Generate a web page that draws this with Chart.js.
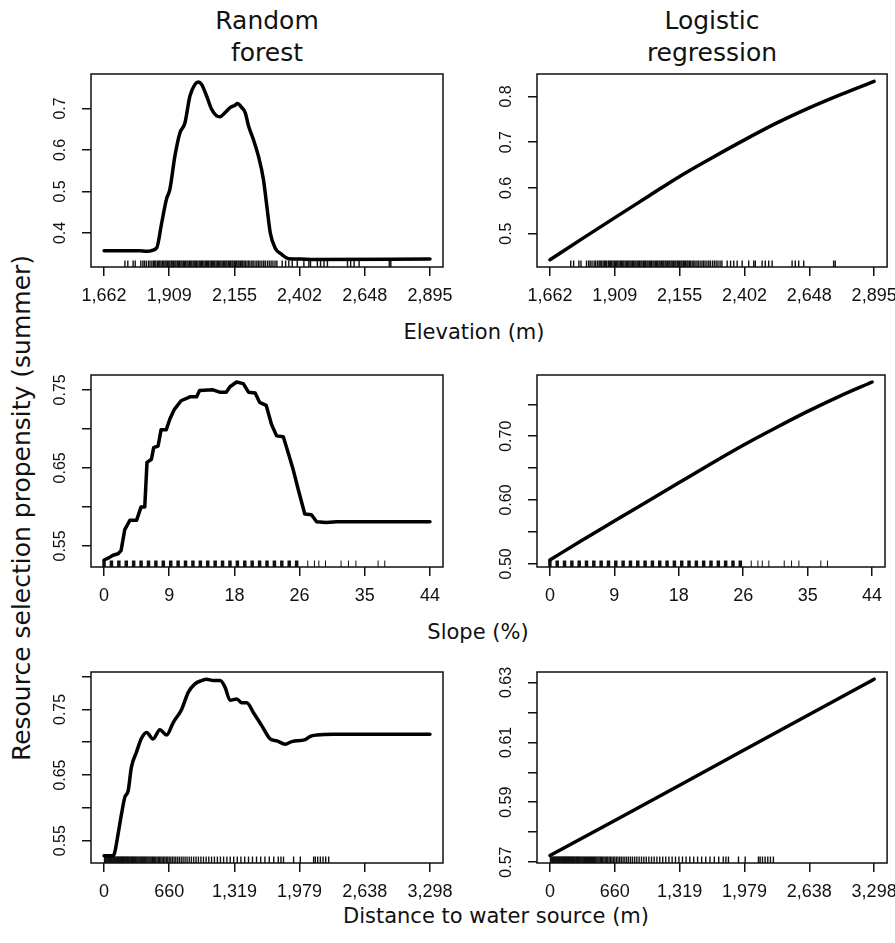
<!DOCTYPE html>
<html>
<head>
<meta charset="utf-8">
<script src="https://cdn.jsdelivr.net/npm/chart.js@4.4.1/dist/chart.umd.min.js"></script>
<style>
  body { margin: 0; background: #fff; }
  #page { position: relative; width: 895px; height: 943px; overflow: hidden; font-family: "DejaVu Sans", Verdana, sans-serif; color: #111; }
  .panel { position: absolute; }
  .label { position: absolute; font-size: 21px; white-space: nowrap; transform: translate(-50%, -50%); }
  .col-title { position: absolute; width: 260px; text-align: center; font-size: 25px; line-height: 32px; }
</style>
</head>
<body>
<div id="page">
  <div class="col-title" style="left:137px; top:5px;">Random<br>forest</div>
  <div class="col-title" style="left:582px; top:5px;">Logistic<br>regression</div>
  <div class="label" style="left:21px; top:508px; font-size:25px; transform: translate(-50%, -50%) rotate(-90deg);">Resource selection propensity (summer)</div>
  <div class="label" style="left:474px; top:332px;">Elevation (m)</div>
  <div class="label" style="left:478px; top:632px;">Slope (%)</div>
  <div class="label" style="left:496px; top:916px;">Distance to water source (m)</div>
</div>
<script>
// x axes
const elevTicks = [1662, 1908.6, 2155.2, 2401.8, 2648.4, 2895];
const elevLabels = ['1,662', '1,909', '2,155', '2,402', '2,648', '2,895'];
const slopeTicks = [0, 8.8, 17.6, 26.4, 35.2, 44];
const slopeLabels = ['0', '9', '18', '26', '35', '44'];
const distTicks = [0, 659.6, 1319.2, 1978.8, 2638.4, 3298];
const distLabels = ['0', '660', '1,319', '1,979', '2,638', '3,298'];

// random forest, elevation
const rfElevX = [1662, 1797, 1823, 1861, 1880, 1898, 1911, 1930, 1949, 1968, 1987, 2006, 2019, 2031, 2050, 2069, 2088, 2101, 2120, 2139, 2158, 2167, 2183, 2196, 2209, 2227, 2246, 2265, 2278, 2291, 2309, 2335, 2360, 2404, 2455, 2895];
const rfElevY = [0.357, 0.357, 0.356, 0.364, 0.424, 0.481, 0.505, 0.585, 0.641, 0.665, 0.73, 0.758, 0.764, 0.758, 0.73, 0.698, 0.682, 0.68, 0.69, 0.702, 0.708, 0.712, 0.702, 0.69, 0.657, 0.625, 0.585, 0.529, 0.464, 0.4, 0.364, 0.348, 0.338, 0.337, 0.336, 0.337];
// logistic regression, elevation
const lrElevX = [1662, 1785, 1909, 2032, 2155, 2279, 2402, 2525, 2648, 2772, 2895];
const lrElevY = [0.443, 0.489, 0.535, 0.580, 0.625, 0.666, 0.705, 0.742, 0.775, 0.805, 0.833];

// random forest, slope
const rfSlopeX = [0, 0.7, 1.2, 1.9, 2.3, 2.8, 3.5, 4.4, 5.0, 5.5, 5.8, 6.4, 6.7, 7.3, 7.7, 8.4, 8.9, 9.5, 10.4, 11.6, 12.5, 12.9, 14.7, 15.6, 16.5, 17.0, 17.9, 18.8, 19.5, 20.4, 21.0, 21.9, 22.6, 23.3, 24.2, 24.9, 25.5, 26.2, 27.1, 28.0, 28.7, 30.0, 31.4, 44];
const rfSlopeY = [0.532, 0.535, 0.538, 0.540, 0.544, 0.571, 0.583, 0.583, 0.600, 0.600, 0.657, 0.661, 0.676, 0.678, 0.699, 0.699, 0.713, 0.725, 0.736, 0.741, 0.741, 0.749, 0.750, 0.747, 0.747, 0.754, 0.760, 0.758, 0.747, 0.746, 0.734, 0.730, 0.706, 0.691, 0.690, 0.668, 0.649, 0.623, 0.591, 0.590, 0.581, 0.580, 0.581, 0.581];
// logistic regression, slope
const lrSlopeX = [0, 4.4, 8.8, 13.2, 17.6, 22, 26.4, 30.8, 35.2, 39.6, 44];
const lrSlopeY = [0.506, 0.537, 0.567, 0.597, 0.627, 0.657, 0.686, 0.713, 0.739, 0.763, 0.785];

// random forest, distance to water
const rfDistX = [0, 91, 108, 142, 176, 210, 244, 277, 328, 379, 430, 497, 565, 633, 700, 785, 852, 920, 988, 1038, 1106, 1174, 1224, 1275, 1343, 1394, 1444, 1512, 1597, 1681, 1749, 1833, 1901, 2036, 2087, 2155, 2324, 3298];
const rfDistY = [0.527, 0.527, 0.532, 0.560, 0.590, 0.616, 0.626, 0.662, 0.685, 0.706, 0.715, 0.705, 0.719, 0.711, 0.730, 0.750, 0.776, 0.789, 0.794, 0.796, 0.794, 0.794, 0.784, 0.764, 0.766, 0.760, 0.760, 0.745, 0.725, 0.705, 0.702, 0.697, 0.701, 0.704, 0.709, 0.711, 0.712, 0.712];
// logistic regression, distance to water
const lrDistX = [0, 660, 1319, 1979, 2638, 3298];
const lrDistY = [0.5722, 0.5839, 0.5957, 0.6075, 0.6193, 0.6311];

// rug (observed locations)
const elevRug = [1741, 1752, 1772, 1780, 1801, 1809, 1815, 1822, 1830, 1836, 1843, 1849, 1853, 1858, 1864, 1869, 1873, 1878, 1884, 1888, 1893, 1897, 1902, 1907, 1911, 1916, 1920, 1925, 1930, 1934, 1939, 1943, 1948, 1953, 1957, 1962, 1966, 1971, 1976, 1980, 1985, 1989, 1994, 1999, 2003, 2008, 2012, 2017, 2022, 2026, 2031, 2035, 2040, 2045, 2049, 2054, 2058, 2063, 2068, 2072, 2077, 2081, 2086, 2091, 2095, 2100, 2104, 2109, 2114, 2118, 2123, 2127, 2132, 2137, 2141, 2146, 2150, 2155, 2160, 2164, 2169, 2173, 2178, 2183, 2187, 2192, 2197, 2203, 2209, 2214, 2221, 2226, 2233, 2240, 2246, 2252, 2259, 2266, 2272, 2280, 2287, 2294, 2301, 2309, 2316, 2336, 2349, 2361, 2374, 2393, 2418, 2437, 2443, 2469, 2481, 2494, 2507, 2583, 2595, 2608, 2627, 2741, 2747];
const slopeRugDense = [0, 1, 2, 3, 4, 5, 6, 7, 8, 9, 10, 11, 12, 13, 14, 15, 16, 17, 18, 19, 20, 21, 22, 23, 24, 25, 26];
const slopeRugSparse = [27.5, 28.4, 29.0, 29.9, 32.0, 33.0, 34.0, 37.0, 37.9];
const distRug = [5, 12, 20, 28, 35, 43, 50, 58, 66, 73, 81, 89, 96, 104, 112, 120, 127, 135, 143, 150, 158, 166, 174, 181, 189, 197, 205, 213, 221, 229, 237, 246, 254, 263, 272, 280, 289, 298, 307, 316, 325, 334, 344, 353, 363, 372, 382, 392, 402, 412, 423, 433, 444, 455, 466, 477, 489, 500, 512, 524, 536, 549, 562, 575, 588, 602, 616, 630, 645, 660, 676, 692, 709, 726, 744, 762, 781, 800, 820, 840, 862, 884, 907, 931, 955, 980, 1006, 1033, 1060, 1088, 1117, 1147, 1178, 1210, 1243, 1277, 1312, 1348, 1385, 1423, 1462, 1502, 1543, 1585, 1628, 1672, 1717, 1763, 1790, 1816, 1918, 1986, 2121, 2138, 2162, 2189, 2216, 2243, 2273];

// y axes
const rfElevYTicks = [0.4, 0.5, 0.6, 0.7];
const rfElevYLabels = ['0.4', '0.5', '0.6', '0.7'];
const lrElevYTicks = [0.5, 0.6, 0.7, 0.8];
const lrElevYLabels = ['0.5', '0.6', '0.7', '0.8'];
const rfSlopeYTicks = [0.55, 0.60, 0.65, 0.70, 0.75];
const rfSlopeYLabels = ['0.55', '', '0.65', '', '0.75'];
const lrSlopeYTicks = [0.50, 0.55, 0.60, 0.65, 0.70, 0.75];
const lrSlopeYLabels = ['0.50', '', '0.60', '', '0.70', ''];
const rfDistYTicks = [0.55, 0.60, 0.65, 0.70, 0.75, 0.80];
const rfDistYLabels = ['0.55', '', '0.65', '', '0.75', ''];
const lrDistYTicks = [0.57, 0.58, 0.59, 0.60, 0.61, 0.62, 0.63];
const lrDistYLabels = ['0.57', '', '0.59', '', '0.61', '', '0.63'];

const INK = '#111';
const TICK_FONT = '"Liberation Sans", Arial, sans-serif';
const X_FONT_SIZE = 18;
const Y_FONT_SIZE = 16;
const TICK_LEN = 9;
const TOP_PAD = 12;
const X_AXIS_H = 45;
const Y_LABEL_GAP = 30.5;

const COLS = [
    { canvasLeft: 20, left: 91, right: 443, canvasRight: 465 },
    { canvasLeft: 470, left: 537, right: 888, canvasRight: 895 }
];
const ROWS = [
    { top: 74, bottom: 267 },
    { top: 375, bottom: 567 },
    { top: 672, bottom: 863 }
];

const page = document.getElementById('page');
const measure = document.createElement('canvas').getContext('2d');
measure.font = `${Y_FONT_SIZE}px ${TICK_FONT}`;

const boxPlugin = {
    id: 'box',
    afterDraw(chart) {
        const { ctx, chartArea: a } = chart;
        ctx.save();
        ctx.strokeStyle = INK;
        ctx.lineWidth = 1.5;
        ctx.strokeRect(a.left, a.top, a.width, a.height);
        ctx.restore();
    }
};

const toPoints = (xs, ys) => xs.map((x, i) => ({ x, y: ys[i] }));

function rugSet(values, yMin, width) {
    return {
        data: values.map(v => ({ x: v, y: yMin })),
        showLine: false,
        pointStyle: 'line',
        pointRotation: 90,
        pointRadius: 6.5,
        pointBorderWidth: width,
        pointBorderColor: INK,
        clip: 0
    };
}

function makePanel(col, row, p) {
    const canvas = document.createElement('canvas');
    canvas.className = 'panel';
    canvas.width = col.canvasRight - col.canvasLeft;
    canvas.height = row.bottom - row.top + TOP_PAD + X_AXIS_H;
    canvas.style.left = col.canvasLeft + 'px';
    canvas.style.top = (row.top - TOP_PAD) + 'px';
    page.appendChild(canvas);

    const widest = Math.max(...p.yLabels.map(l => measure.measureText(l).width));
    const grid = { drawOnChartArea: false, drawTicks: true, tickLength: TICK_LEN, color: INK, lineWidth: 1.5 };

    const datasets = [{
        data: toPoints(p.x, p.y),
        showLine: true,
        borderColor: '#000',
        borderWidth: 3.5,
        borderJoinStyle: 'round',
        borderCapStyle: 'round',
        pointRadius: 0,
        tension: 0,
        cubicInterpolationMode: p.smooth ? 'monotone' : 'default'
    }];
    p.rugs.forEach(r => datasets.push(rugSet(r.values, p.yMin, r.width)));

    new Chart(canvas, {
        type: 'scatter',
        data: { datasets },
        options: {
            responsive: false,
            animation: false,
            devicePixelRatio: 1,
            layout: { padding: { top: TOP_PAD, right: col.canvasRight - col.right, bottom: 0, left: 0 } },
            plugins: { legend: { display: false }, tooltip: { enabled: false } },
            scales: {
                x: {
                    type: 'linear',
                    min: p.xMin,
                    max: p.xMax,
                    afterBuildTicks: s => { s.ticks = p.xTicks.map(v => ({ value: v })); },
                    afterFit: s => { s.height = X_AXIS_H; s.paddingLeft = 0; s.paddingRight = 0; },
                    ticks: {
                        autoSkip: false, maxRotation: 0, padding: 9, color: INK,
                        font: { family: TICK_FONT, size: X_FONT_SIZE },
                        callback: (v, i) => p.xLabels[i]
                    },
                    grid,
                    border: { display: false }
                },
                y: {
                    type: 'linear',
                    min: p.yMin,
                    max: p.yMax,
                    afterBuildTicks: s => { s.ticks = p.yTicks.map(v => ({ value: v })); },
                    afterFit: s => { s.width = col.left - col.canvasLeft; s.paddingTop = 0; s.paddingBottom = 0; },
                    ticks: {
                        autoSkip: false, minRotation: 90, maxRotation: 90, crossAlign: 'center',
                        padding: Y_LABEL_GAP - TICK_LEN - widest / 2, color: INK,
                        font: { family: TICK_FONT, size: Y_FONT_SIZE },
                        callback: (v, i) => p.yLabels[i]
                    },
                    grid,
                    border: { display: false }
                }
            }
        },
        plugins: [boxPlugin]
    });
}

const elevAxis = { xMin: 1612.7, xMax: 2944.3, xTicks: elevTicks, xLabels: elevLabels };
const slopeAxis = { xMin: -1.76, xMax: 45.76, xTicks: slopeTicks, xLabels: slopeLabels };
const distAxis = { xMin: -131.9, xMax: 3429.9, xTicks: distTicks, xLabels: distLabels };

makePanel(COLS[0], ROWS[0], { ...elevAxis, x: rfElevX, y: rfElevY, smooth: true, yMin: 0.318, yMax: 0.783,
    yTicks: rfElevYTicks, yLabels: rfElevYLabels, rugs: [{ values: elevRug, width: 1.4 }] });
makePanel(COLS[1], ROWS[0], { ...elevAxis, x: lrElevX, y: lrElevY, smooth: true, yMin: 0.427, yMax: 0.849,
    yTicks: lrElevYTicks, yLabels: lrElevYLabels, rugs: [{ values: elevRug, width: 1.4 }] });
makePanel(COLS[0], ROWS[1], { ...slopeAxis, x: rfSlopeX, y: rfSlopeY, smooth: false, yMin: 0.523, yMax: 0.769,
    yTicks: rfSlopeYTicks, yLabels: rfSlopeYLabels, rugs: [{ values: slopeRugDense, width: 3.5 }, { values: slopeRugSparse, width: 1 }] });
makePanel(COLS[1], ROWS[1], { ...slopeAxis, x: lrSlopeX, y: lrSlopeY, smooth: true, yMin: 0.495, yMax: 0.796,
    yTicks: lrSlopeYTicks, yLabels: lrSlopeYLabels, rugs: [{ values: slopeRugDense, width: 3.5 }, { values: slopeRugSparse, width: 1 }] });
makePanel(COLS[0], ROWS[2], { ...distAxis, x: rfDistX, y: rfDistY, smooth: true, yMin: 0.516, yMax: 0.807,
    yTicks: rfDistYTicks, yLabels: rfDistYLabels, rugs: [{ values: distRug, width: 1.4 }] });
makePanel(COLS[1], ROWS[2], { ...distAxis, x: lrDistX, y: lrDistY, smooth: false, yMin: 0.5697, yMax: 0.6335,
    yTicks: lrDistYTicks, yLabels: lrDistYLabels, rugs: [{ values: distRug, width: 1.4 }] });
</script>
</body>
</html>
